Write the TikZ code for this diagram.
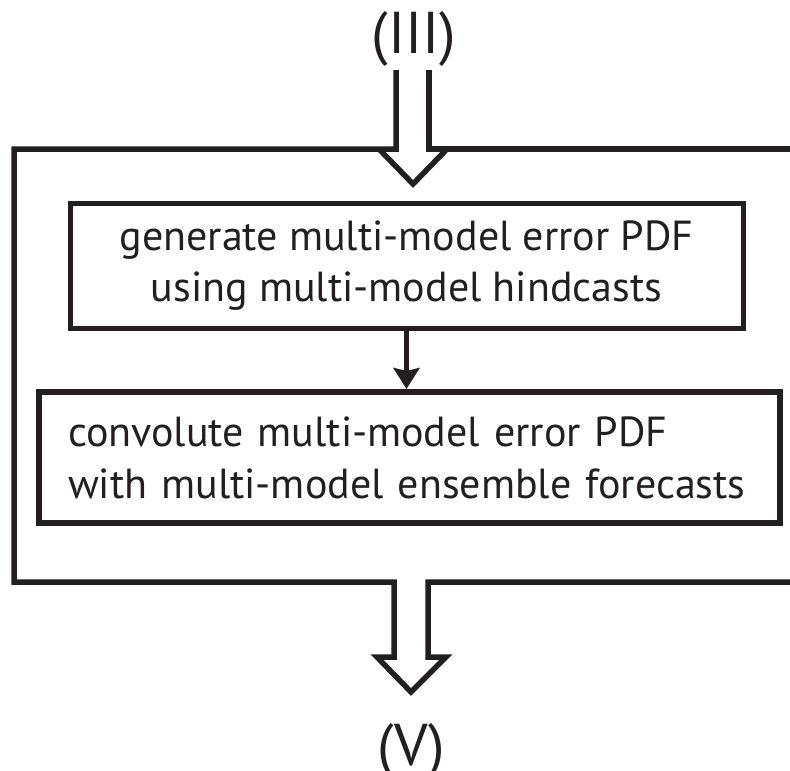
\documentclass[tikz,border=0pt]{standalone}
\usepackage{fontspec}
\setmainfont{PT Sans}
\usetikzlibrary{arrows.meta}
\definecolor{ink}{HTML}{231F20}
\tikzset{
  frameline/.style={draw=ink, line width=5.5pt, line join=miter, line cap=butt},
  genbox/.style={draw=ink, line width=5pt, inner sep=0pt, minimum width=673pt,
    minimum height=125pt, align=center, text=ink,
    font=\fontsize{42}{51}\selectfont},
  convbox/.style={draw=ink, line width=6pt, inner xsep=29pt, inner ysep=0pt,
    text width=683pt, minimum height=131pt, align=left, text=ink,
    font=\fontsize{42}{52}\selectfont},
  steplabel/.style={text=ink, inner sep=0pt, anchor=base,
    font=\fontsize{59}{62}\selectfont},
  flowarrow/.style={draw=ink, line width=5.5pt,
    -{Stealth[length=21pt, width=26pt, inset=3pt]}},
}
\begin{document}
\begin{tikzpicture}[x=1pt, y=-1pt]
\useasboundingbox (0,0) rectangle (790,771);

% stage labels
\node[steplabel] (inlabel) at (414,53) {(III)};
\node[steplabel] (outlabel) at (411,765) {(V)};

% the two processing steps
\node[genbox] (gen) at (406.5,265.5) {generate multi-model error PDF\\using multi-model hindcasts};
\node[convbox] (conv) at (409.5,457.5) {convolute multi-model error PDF\\with multi-model ensemble forecasts};
\draw[flowarrow] (gen.south) -- (gen.south |- conv.north);

% enclosing frame with the incoming hollow arrow
\draw[frameline] (396,70) -- (396,149) -- (14,149) -- (14,582) -- (394,582)
  -- (394,657) -- (377,657) -- (411,692) -- (446,657) -- (428,657) -- (428,582) -- (800,582);
\draw[frameline] (429,70) -- (429,149) -- (800,149);
\draw[frameline] (379,149) -- (413,184) -- (447,149);
\end{tikzpicture}
\end{document}
